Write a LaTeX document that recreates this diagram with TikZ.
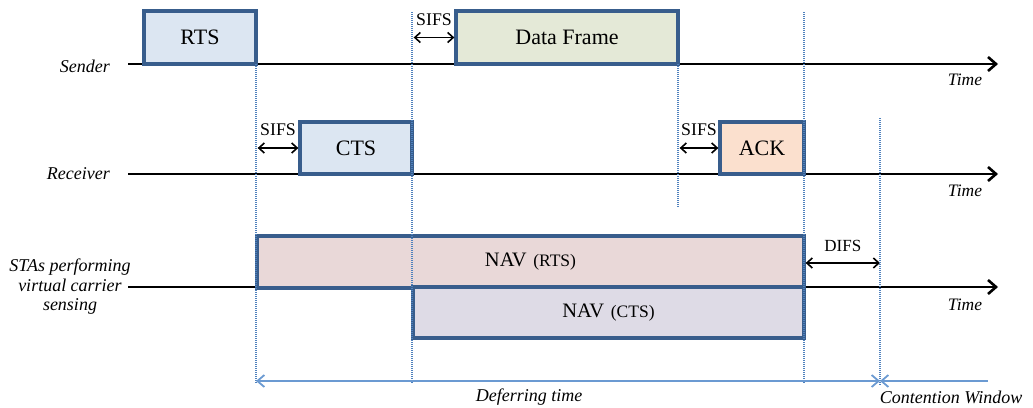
\documentclass[tikz,border=0pt]{standalone}
\usepackage{fontspec}
\setmainfont{Liberation Serif}
\usetikzlibrary{arrows.meta}

\definecolor{framec}{HTML}{385D8C}
\definecolor{rtsfill}{HTML}{DCE6F2}
\definecolor{datafill}{HTML}{E4E9D7}
\definecolor{ackfill}{HTML}{FBE0CE}
\definecolor{navrfill}{HTML}{E9D8D8}
\definecolor{navcfill}{HTML}{DEDBE6}
\definecolor{guidec}{HTML}{4F81BD}
\definecolor{spanc}{HTML}{6B9AD2}

\tikzset{
  spantip/.tip={Straight Barb[length=7pt,width=12pt]},
  dimtip/.tip={Straight Barb[length=5.5pt,width=10pt]},
  axistip/.tip={Straight Barb[length=8pt,width=14pt]}
}

\begin{document}
\begin{tikzpicture}[x=1pt,y=-1pt,
  frame/.style={draw=framec, line width=3.3pt, inner sep=0pt,
    font=\fontsize{22}{26}\selectfont},
  axis/.style={line width=2.6pt, -{axistip}},
  dim/.style={line width=1.6pt, {dimtip}-{dimtip}},
  dimtext/.style={inner sep=0pt, font=\fontsize{17.8}{20}\selectfont},
  lanetext/.style={inner sep=0pt, font=\fontsize{18}{19.5}\selectfont\itshape},
  timetext/.style={inner sep=0pt, font=\fontsize{17.5}{20}\selectfont\itshape},
  guide/.style={draw=guidec, line width=1.1pt, dash pattern=on 1pt off 1pt},
  span/.style={draw=spanc, line width=1.8pt},
  navtext/.style={font=\fontsize{20.5}{24}\selectfont}
]
\useasboundingbox (0,0) rectangle (1033,407);

% time axes
\coordinate (s0) at (128,64);  \coordinate (s1) at (998,64);
\coordinate (r0) at (128,174); \coordinate (r1) at (998,174);
\coordinate (v0) at (128,287); \coordinate (v1) at (998,287);
\draw[axis] (s0) -- (s1);
\draw[axis] (r0) -- (r1);
\draw[axis] (v0) -- (v1);

% lane labels
\node[lanetext, anchor=east] (lsend) at (110,66) {Sender};
\node[lanetext, anchor=east] (lrecv) at (110,174) {Receiver};
\node[lanetext, align=center] (lsta) at (70,287) {STAs performing\\virtual carrier\\sensing};
\node[timetext] (t1) at (965,80) {Time};
\node[timetext] (t2) at (965,191) {Time};
\node[timetext] (t3) at (965,305) {Time};

% frames
\node[frame, fill=rtsfill, minimum width=112, minimum height=53] (rts) at (200,37.5) {RTS};
\node[frame, fill=datafill, minimum width=222, minimum height=53] (data) at (567,37.5) {Data Frame};
\node[frame, fill=rtsfill, minimum width=112, minimum height=52] (cts) at (356,148) {CTS};
\node[frame, fill=ackfill, minimum width=84, minimum height=52] (ack) at (762,148) {ACK};
\node[frame, navtext, fill=navrfill, minimum width=547, minimum height=52]
  (navr) at (530.5,262) {NAV\hspace{1.5pt} {\fontsize{17.5}{20}\selectfont (RTS)}};
\node[frame, navtext, fill=navcfill, minimum width=391, minimum height=51]
  (navc) at (608.5,312.5) {NAV\hspace{1.5pt} {\fontsize{17.5}{20}\selectfont (CTS)}\hspace{6pt}};

% interframe spaces
\draw[dim] (data.west -| cts.east) -- (data.west)
  node[dimtext, midway, above=11pt] (sifsa) {SIFS};
\draw[dim] (cts.west -| rts.east) -- (cts.west)
  node[dimtext, midway, above=12pt] (sifsb) {SIFS};
\draw[dim] (ack.west -| data.east) -- (ack.west)
  node[dimtext, midway, above=11.5pt] (sifsc) {SIFS};
\coordinate (cw) at (880,263);
\draw[dim] (navr.east |- cw) -- (cw)
  node[dimtext, midway, above=11pt, font=\fontsize{17}{20}\selectfont] (difs) {DIFS};

% guide lines
\coordinate (g1a) at (256,64);  \coordinate (g1b) at (256,383);
\coordinate (g2a) at (412,12);  \coordinate (g2b) at (412,383);
\coordinate (g3a) at (678,64);  \coordinate (g3b) at (678,208);
\coordinate (g4a) at (804,12);  \coordinate (g4b) at (804,383);
\coordinate (g5a) at (880,118); \coordinate (g5b) at (880,386);
\draw[guide] (g1a) -- (g1b);
\draw[guide] (g2a) -- (g2b);
\draw[guide] (g3a) -- (g3b);
\draw[guide] (g4a) -- (g4b);
\draw[guide] (g5a) -- (g5b);

% deferring time and contention window
\coordinate (d0) at (256,381);
\coordinate (d1) at (880,381);
\coordinate (d2) at (988,381);
\draw[span, {spantip}-{spantip}] (d0) -- (d1);
\draw[span, {spantip}-] (d1) -- (d2);
\node[lanetext] (dt) at (529,397) {Deferring time};
\node[lanetext] (cwt) at (951,397) {Contention Window};
\end{tikzpicture}
\end{document}
